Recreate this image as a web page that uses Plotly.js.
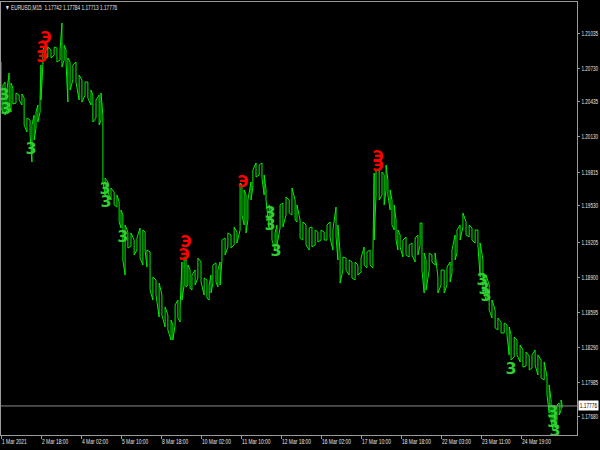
<!DOCTYPE html>
<html>
<head>
<meta charset="utf-8">
<script src="https://cdn.plot.ly/plotly-3.0.1.min.js"></script>
<style>
html,body{margin:0;padding:0;background:#000;}
#chart{width:600px;height:450px;}
</style>
</head>
<body>
<div id="chart"></div>
<script>
// M15 bar index of each sampled column
const barIdx = [0,6,13,19,26,32,38,48,58,67,74,83,93,99,106,112,118,125,128,134,141,150,160,170,179,189,195,202,208,214,221,230,240,250,259,269,278,288,294,304,314,320,326,333,342,352,362,371,378,384,390,397,406,416,426,435,445,454,461,467,477,486,496,506,515,525,534,544,550,557,566,573,579,586,592,598,605,611,621,630,640,650,659,666,672,678,688,694,701,707,717,726,736,746,755,765,771,778,784,790,800,806,816,826,835,842,848,858,867,877,883,893,902,912,922,931,941,947,957,966,976,986,995,1005,1014,1024,1034,1043,1053,1062,1072,1078,1085,1094,1104,1114,1123,1133,1142,1152,1162,1171,1181,1190,1194,1200,1210,1219,1226,1232,1238,1245,1251,1258,1264,1270,1277,1286,1296,1306,1315,1325,1334,1341,1347,1354,1360,1370,1379,1389,1398,1408,1418,1427,1437,1443,1453,1459,1469,1478,1488,1498,1507,1517,1526,1533,1542,1552,1562,1571,1581,1590,1600,1610,1619,1626,1632,1642,1651,1661,1670,1680,1690,1699,1709,1718,1728,1738,1747,1754,1760,1766,1773,1779,1786,1792,1795];
const highs = [1.20784,1.20583,1.20609,1.20539,1.20688,1.20600,1.20556,1.20513,1.20495,1.20504,1.20469,1.20294,1.20277,1.20233,1.20320,1.20347,1.20408,1.20469,1.20758,1.20889,1.20932,1.20915,1.20889,1.20915,1.20906,1.20889,1.21125,1.20932,1.20889,1.20819,1.20784,1.20758,1.20784,1.20670,1.20627,1.20609,1.20609,1.20539,1.20495,1.20452,1.20495,1.20513,1.20320,1.19770,1.19735,1.19682,1.19647,1.19621,1.19560,1.19490,1.19446,1.19359,1.19297,1.19289,1.19227,1.19245,1.19332,1.19315,1.19297,1.19140,1.19123,1.18904,1.18878,1.18851,1.18746,1.18642,1.18572,1.18528,1.18484,1.18659,1.18703,1.18633,1.19035,1.19079,1.19070,1.19009,1.18965,1.18921,1.18965,1.19070,1.19035,1.18895,1.18878,1.18834,1.18921,1.19009,1.19026,1.18965,1.19035,1.19227,1.19245,1.19289,1.19271,1.19341,1.19297,1.19726,1.19708,1.19665,1.19621,1.19577,1.19735,1.19840,1.19901,1.19883,1.19901,1.19796,1.19665,1.19534,1.19402,1.19289,1.19359,1.19534,1.19551,1.19603,1.19577,1.19682,1.19577,1.19534,1.19402,1.19385,1.19359,1.19332,1.19341,1.19315,1.19297,1.19315,1.19297,1.19359,1.19385,1.19315,1.19516,1.19359,1.19114,1.19079,1.19070,1.19053,1.19035,1.19035,1.19009,1.19070,1.19166,1.19123,1.19140,1.19096,1.19813,1.19840,1.19840,1.19822,1.19796,1.19883,1.19752,1.19665,1.19577,1.19534,1.19402,1.19315,1.19271,1.19227,1.19254,1.19184,1.19201,1.19245,1.19271,1.19376,1.19376,1.19114,1.19053,1.19114,1.19096,1.19114,1.18904,1.18965,1.18965,1.18991,1.19035,1.19140,1.19271,1.19315,1.19359,1.19464,1.19385,1.19359,1.19332,1.19315,1.19315,1.19201,1.19053,1.18921,1.18834,1.18703,1.18615,1.18545,1.18510,1.18502,1.18484,1.18467,1.18397,1.18379,1.18353,1.18309,1.18266,1.18248,1.18213,1.18222,1.18266,1.18222,1.18178,1.18161,1.18030,1.17960,1.17828,1.17785,1.17741,1.17785,1.17802,1.17828,1.17793];
const lows = [1.20382,1.20347,1.20320,1.20364,1.20408,1.20347,1.20417,1.20425,1.20452,1.20408,1.20233,1.20172,1.20146,1.19910,1.20102,1.20207,1.20259,1.20347,1.20452,1.20758,1.20819,1.20828,1.20819,1.20845,1.20784,1.20801,1.20740,1.20801,1.20784,1.20434,1.20539,1.20627,1.20609,1.20452,1.20434,1.20495,1.20469,1.20408,1.20259,1.20294,1.20233,1.20277,1.19735,1.19621,1.19647,1.19577,1.19534,1.19516,1.19385,1.19332,1.19053,1.18921,1.19157,1.19175,1.19096,1.19140,1.19070,1.19009,1.19140,1.18991,1.18790,1.18703,1.18746,1.18554,1.18572,1.18467,1.18441,1.18353,1.18353,1.18484,1.18545,1.18510,1.18703,1.18834,1.18816,1.18834,1.18808,1.18790,1.18834,1.18895,1.18860,1.18746,1.18720,1.18703,1.18764,1.18851,1.18860,1.18816,1.18834,1.19053,1.19096,1.19166,1.19157,1.19184,1.19201,1.19315,1.19446,1.19359,1.19289,1.19402,1.19577,1.19691,1.19778,1.19796,1.19770,1.19621,1.19577,1.19315,1.19227,1.19140,1.19184,1.19332,1.19341,1.19446,1.19464,1.19446,1.19402,1.19385,1.19245,1.19227,1.19184,1.19140,1.19166,1.19184,1.19210,1.19227,1.19227,1.19227,1.19245,1.19140,1.19254,1.19053,1.18851,1.18965,1.18965,1.18921,1.18895,1.18878,1.18921,1.18948,1.19009,1.18983,1.19009,1.18983,1.19227,1.19621,1.19577,1.19621,1.19534,1.19665,1.19621,1.19490,1.19359,1.19315,1.19227,1.19140,1.19166,1.19079,1.19096,1.19079,1.19096,1.19035,1.19096,1.19184,1.18965,1.18764,1.18790,1.18965,1.19035,1.19009,1.18764,1.18834,1.18764,1.18834,1.18860,1.18939,1.19053,1.19114,1.19227,1.19341,1.19271,1.19254,1.19227,1.19201,1.19184,1.18904,1.18790,1.18703,1.18615,1.18545,1.18458,1.18441,1.18414,1.18414,1.18397,1.18222,1.18178,1.18204,1.18222,1.18161,1.18117,1.18126,1.18091,1.18108,1.18134,1.18047,1.18021,1.18003,1.17872,1.17715,1.17653,1.17566,1.17584,1.17653,1.17697,1.17741,1.17758];

// signal arrows
const sellBars = [144,134,131,592,586,774,1206,1206];
const sellPrices = [1.20985,1.20898,1.20819,1.19201,1.19088,1.19726,1.19944,1.19866];
const buyBars = [10,16,96,333,336,390,861,861,880,1539,1546,1552,1632,1766,1766,1773];
const buyPrices = [1.20487,1.20364,1.20014,1.19665,1.19551,1.19245,1.19455,1.19350,1.19123,1.18869,1.18790,1.18729,1.18091,1.17715,1.17627,1.17549];

// axes
const xTickBars = [0,128,256,384,512,640,768,896,1024,1152,1280,1408,1536,1664];
const xTickLabels = ["1 Mar 2021","2 Mar 18:00","4 Mar 02:00","5 Mar 10:00","8 Mar 18:00","10 Mar 02:00","11 Mar 10:00","12 Mar 18:00","16 Mar 02:00","17 Mar 10:00","18 Mar 18:00","22 Mar 03:00","23 Mar 11:00","24 Mar 19:00"];
const yTickVals = [1.21035,1.20730,1.20435,1.20130,1.19815,1.19530,1.19205,1.18900,1.18595,1.18290,1.17985,1.17680];
const yTickLabels = ["1.21035","1.20730","1.20435","1.20130","1.19815","1.19530","1.19205","1.18900","1.18595","1.18290","1.17985","1.17680"];

const symbolName = "EURUSD,M15";
const lastBar = {open:1.17742, high:1.17784, low:1.17713, close:1.17776};

// build zigzag high/low path
const px = [], py = [];
for (let i = 0; i < barIdx.length; i++) {
  if (i % 2 === 0) { px.push(barIdx[i], barIdx[i]); py.push(highs[i], lows[i]); }
  else { px.push(barIdx[i], barIdx[i]); py.push(lows[i], highs[i]); }
}

const FONT = "Liberation Sans, Arial, sans-serif";
const FS = 7;
const fmt = v => v.toFixed(5);

const traces = [
  {x: px, y: py, type: 'scatter', mode: 'lines', line: {color: '#00ee00', width: 1}, hoverinfo: 'skip'},
  {x: sellBars, y: sellPrices, type: 'scatter', mode: 'text', text: sellBars.map(() => 'Э'),
   textfont: {color: '#ff0000', size: 15, family: 'DejaVu Sans, sans-serif', weight: 'bold'}, hoverinfo: 'skip'},
  {x: buyBars, y: buyPrices, type: 'scatter', mode: 'text', text: buyBars.map(() => '3'),
   textfont: {color: '#32cd32', size: 16, family: 'DejaVu Sans, sans-serif', weight: 'bold'}, hoverinfo: 'skip'}
];

const layout = {
  width: 600, height: 450,
  paper_bgcolor: '#000', plot_bgcolor: '#000',
  margin: {l: 1, r: 23, t: 2, b: 15, pad: 0},
  showlegend: false,
  font: {family: FONT, size: FS, color: '#e6e6e6'},
  xaxis: {
    range: [0, 1843], showgrid: false, zeroline: false,
    showline: true, mirror: true, linecolor: '#9b9b9b', linewidth: 1,
    tickmode: 'array', tickvals: xTickBars, ticktext: xTickLabels,
    ticks: 'outside', ticklen: 3, tickcolor: '#9b9b9b', tickangle: 0,
    ticklabelposition: 'outside right', ticklabelstandoff: 0,
    tickfont: {family: FONT, size: FS, color: '#e6e6e6'}
  },
  yaxis: {
    range: [1.17522, 1.21309], side: 'right', showgrid: false, zeroline: false,
    showline: true, mirror: true, linecolor: '#9b9b9b', linewidth: 1,
    tickmode: 'array', tickvals: yTickVals, ticktext: yTickLabels,
    ticks: 'outside', ticklen: 2, tickcolor: '#9b9b9b', ticklabelstandoff: 0,
    tickfont: {family: FONT, size: FS, color: '#e6e6e6'}
  },
  shapes: [
    {type: 'line', xref: 'paper', x0: 0, x1: 1, yref: 'y', y0: lastBar.close, y1: lastBar.close,
     line: {color: '#8a8a8a', width: 1}}
  ],
  annotations: [
    {xref: 'paper', yref: 'y', x: 1, y: lastBar.close, xanchor: 'left', yanchor: 'middle', xshift: 1,
     width: 19, height: 9, align: 'center',
     text: fmt(lastBar.close), showarrow: false, bgcolor: '#ffffff', borderpad: 0,
     font: {family: FONT, size: FS, color: '#000'}},
    {xref: 'paper', yref: 'paper', x: 0, y: 1, xanchor: 'left', yanchor: 'top', xshift: 2, yshift: 0,
     align: 'left',
     text: '▼ ' + symbolName + '  ' + fmt(lastBar.open) + ' ' + fmt(lastBar.high) + ' ' + fmt(lastBar.low) + ' ' + fmt(lastBar.close),
     showarrow: false, font: {family: FONT, size: FS, color: '#e6e6e6'}}
  ]
};

function condense(sel, f) {
  document.querySelectorAll(sel).forEach(t => {
    const L = t.getComputedTextLength();
    if (L > 0) {
      t.setAttribute('textLength', (L * f).toFixed(1));
      t.setAttribute('lengthAdjust', 'spacingAndGlyphs');
    }
  });
}

Plotly.newPlot('chart', traces, layout, {staticPlot: true, displayModeBar: false}).then(() => {
  condense('.xtick text', 0.7);
  condense('.ytick text', 0.66);
  condense('.annotation-text', 0.68);
});
</script>
</body>
</html>
